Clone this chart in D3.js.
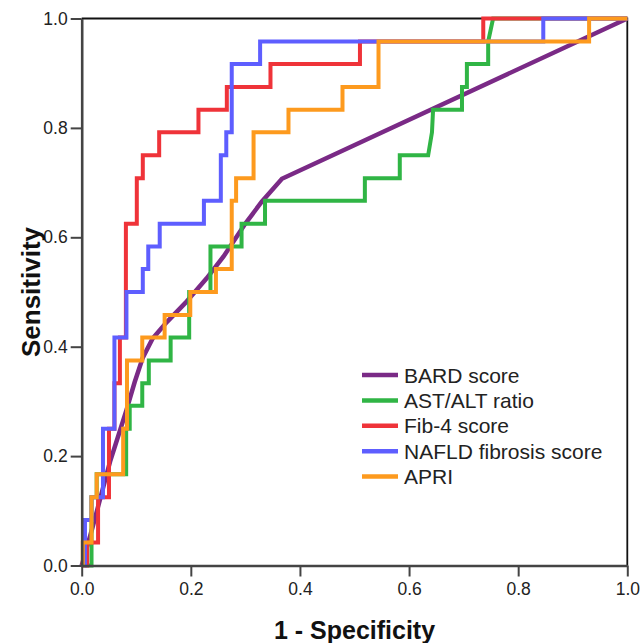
<!DOCTYPE html>
<html>
<head>
<meta charset="utf-8">
<script src="https://cdn.jsdelivr.net/npm/d3@7"></script>
<style>
  body { margin: 0; background: #fff; }
  svg { display: block; font-family: "Liberation Sans", Arial, sans-serif; }
</style>
</head>
<body>
<svg id="chart"></svg>
<script>
// ROC curves, one pair of arrays per test (1 - specificity, sensitivity)
const seriesNames = ["BARD score", "AST/ALT ratio", "Fib-4 score", "NAFLD fibrosis score", "APRI"];
const seriesColors = ["#7a2a86", "#30b545", "#ef3339", "#5e5eff", "#fd9a1e"];

const bardFpr = [0, 0.02, 0.04, 0.052, 0.068, 0.082, 0.097, 0.112, 0.13, 0.156, 0.19, 0.229, 0.26, 0.30, 0.33, 0.367, 1];
const bardTpr = [0, 0.07, 0.145, 0.19, 0.24, 0.284, 0.335, 0.38, 0.415, 0.445, 0.48, 0.525, 0.565, 0.625, 0.665, 0.707, 1];

const astFpr = [0, 0.018, 0.018, 0.0275, 0.0275, 0.0815, 0.0815, 0.088, 0.088, 0.111, 0.111, 0.123, 0.123, 0.163, 0.163, 0.197, 0.197, 0.236, 0.236, 0.293, 0.293, 0.336, 0.336, 0.519, 0.519, 0.583, 0.583, 0.635, 0.642, 0.644, 0.697, 0.697, 0.706, 0.706, 0.745, 0.745, 0.754, 1];
const astTpr = [0, 0, 0.125, 0.125, 0.167, 0.167, 0.25, 0.25, 0.292, 0.292, 0.333, 0.333, 0.375, 0.375, 0.417, 0.417, 0.5, 0.5, 0.583, 0.583, 0.625, 0.625, 0.667, 0.667, 0.708, 0.708, 0.75, 0.75, 0.792, 0.833, 0.833, 0.875, 0.875, 0.917, 0.917, 0.958, 1, 1];

const fib4Fpr = [0, 0.010, 0.010, 0.030, 0.030, 0.050, 0.050, 0.060, 0.060, 0.070, 0.070, 0.081, 0.081, 0.101, 0.101, 0.112, 0.112, 0.142, 0.142, 0.214, 0.214, 0.266, 0.266, 0.346, 0.346, 0.510, 0.510, 0.736, 0.736, 1];
const fib4Tpr = [0, 0, 0.042, 0.042, 0.125, 0.125, 0.25, 0.25, 0.333, 0.333, 0.417, 0.417, 0.625, 0.625, 0.708, 0.708, 0.75, 0.75, 0.792, 0.792, 0.833, 0.833, 0.875, 0.875, 0.917, 0.917, 0.958, 0.958, 1, 1];

const nafldFpr = [0, 0.006, 0.006, 0.018, 0.018, 0.039, 0.039, 0.060, 0.060, 0.082, 0.082, 0.112, 0.112, 0.122, 0.122, 0.143, 0.143, 0.224, 0.224, 0.255, 0.255, 0.265, 0.265, 0.275, 0.275, 0.327, 0.327, 0.846, 0.846, 1];
const nafldTpr = [0, 0, 0.083, 0.083, 0.125, 0.125, 0.25, 0.25, 0.417, 0.417, 0.5, 0.5, 0.542, 0.542, 0.583, 0.583, 0.625, 0.625, 0.667, 0.667, 0.75, 0.75, 0.792, 0.792, 0.917, 0.917, 0.958, 0.958, 1, 1];

const apriFpr = [0, 0.002, 0.002, 0.018, 0.018, 0.0275, 0.0275, 0.076, 0.076, 0.083, 0.083, 0.111, 0.111, 0.152, 0.152, 0.199, 0.199, 0.246, 0.246, 0.275, 0.275, 0.283, 0.283, 0.315, 0.315, 0.379, 0.379, 0.478, 0.478, 0.544, 0.544, 0.930, 0.930, 1];
const apriTpr = [0, 0, 0.042, 0.042, 0.125, 0.125, 0.167, 0.167, 0.25, 0.25, 0.375, 0.375, 0.417, 0.417, 0.458, 0.458, 0.5, 0.5, 0.542, 0.542, 0.667, 0.667, 0.708, 0.708, 0.792, 0.792, 0.833, 0.833, 0.875, 0.875, 0.958, 0.958, 1, 1];

const tickValues = [0, 0.2, 0.4, 0.6, 0.8, 1.0];

const W = 643, H = 643;
const margin = {top: 18.5, right: 15.7, bottom: 77.5, left: 81.7};
const width = W - margin.left - margin.right;
const height = H - margin.top - margin.bottom;

const svg = d3.select("#chart").attr("width", W).attr("height", H);
const chart = svg.append("g").attr("transform", `translate(${margin.left},${margin.top})`);

const x = d3.scaleLinear().domain([0, 1]).range([0, width]);
const y = d3.scaleLinear().domain([0, 1]).range([height, 0]);

// frame on top and right
chart.append("path")
    .attr("d", `M0,0H${width}V${height}`)
    .attr("fill", "none")
    .attr("stroke", "#111")
    .attr("stroke-width", 1.8);

// curves, drawn in legend order so APRI ends on top
const series = [
  {fpr: bardFpr, tpr: bardTpr},
  {fpr: astFpr, tpr: astTpr},
  {fpr: fib4Fpr, tpr: fib4Tpr},
  {fpr: nafldFpr, tpr: nafldTpr},
  {fpr: apriFpr, tpr: apriTpr}
];

const line = d3.line()
    .x(d => x(d[0]))
    .y(d => y(d[1]));

series.forEach((s, i) => {
  const pts = s.fpr.map((v, j) => [v, s.tpr[j]]);
  chart.append("path")
      .datum(pts)
      .attr("fill", "none")
      .attr("stroke", seriesColors[i])
      .attr("stroke-width", i === 0 ? 4.5 : 4)
      .attr("stroke-linejoin", "miter")
      .attr("d", line);
});

// axes
const xAxisG = chart.append("g")
    .attr("transform", `translate(0,${height})`)
    .call(d3.axisBottom(x).tickValues(tickValues).tickFormat(d3.format(".1f")).tickSizeInner(11).tickSizeOuter(0).tickPadding(6));

const yAxisG = chart.append("g")
    .call(d3.axisLeft(y).tickValues(tickValues).tickFormat(d3.format(".1f")).tickSizeInner(11).tickSizeOuter(0).tickPadding(3));

[xAxisG, yAxisG].forEach(g => {
  g.select(".domain").attr("stroke", "#444").attr("stroke-width", 2.6);
  g.selectAll(".tick line").attr("stroke", "#444").attr("stroke-width", 2);
  g.selectAll(".tick text")
      .attr("fill", "#222")
      .style("font-family", "'Liberation Sans', Arial, sans-serif")
      .style("font-size", "17.5px");
});

// axis titles
svg.append("text")
    .attr("x", margin.left + width / 2)
    .attr("y", 639)
    .attr("text-anchor", "middle")
    .attr("font-weight", "bold")
    .attr("font-size", 25)
    .attr("fill", "#111")
    .text("1 - Specificity");

svg.append("text")
    .attr("transform", `translate(40,${margin.top + height / 2}) rotate(-90)`)
    .attr("text-anchor", "middle")
    .attr("font-weight", "bold")
    .attr("font-size", 26)
    .attr("fill", "#111")
    .text("Sensitivity");

// legend
const legend = svg.append("g").attr("transform", "translate(362,375)");
seriesNames.forEach((name, i) => {
  const row = legend.append("g").attr("transform", `translate(0,${i * 25.4})`);
  row.append("line")
      .attr("x1", 0).attr("x2", 36)
      .attr("y1", 0).attr("y2", 0)
      .attr("stroke", seriesColors[i])
      .attr("stroke-width", 4.5);
  row.append("text")
      .attr("x", 42)
      .attr("y", 7.5)
      .attr("font-size", 21)
      .attr("fill", "#222")
      .text(name);
});
</script>
</body>
</html>
